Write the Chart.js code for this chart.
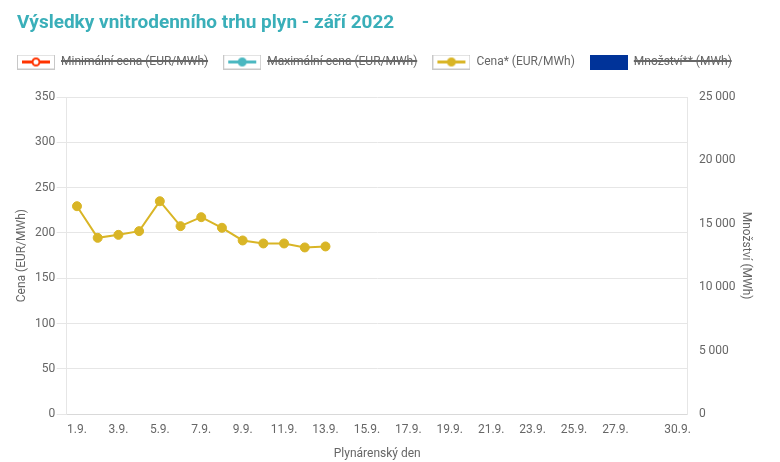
<!DOCTYPE html>
<html>
<head>
<meta charset="utf-8">
<script src="https://cdn.jsdelivr.net/npm/chart.js@4"></script>
<style>
  html, body { margin: 0; padding: 0; background: #fff; }
  #wrap { position: relative; width: 780px; height: 462px; }
  #title {
    position: absolute; left: 17px; top: 9px;
    font: bold 19px Roboto, sans-serif; color: #3aafb9;
    line-height: 26px; white-space: nowrap;
  }
</style>
</head>
<body>
<div id="wrap">
  <div id="title">Výsledky vnitrodenního trhu plyn - září 2022</div>
  <canvas id="myChart"></canvas>
</div>
<script>
const days = ['1.9.', '2.9.', '3.9.', '4.9.', '5.9.', '6.9.', '7.9.', '8.9.', '9.9.', '10.9.',
  '11.9.', '12.9.', '13.9.', '14.9.', '15.9.', '16.9.', '17.9.', '18.9.', '19.9.', '20.9.',
  '21.9.', '22.9.', '23.9.', '24.9.', '25.9.', '26.9.', '27.9.', '28.9.', '29.9.', '30.9.'];

// only the price series is shown, the rest is hidden in the legend
const minPrice = [];
const maxPrice = [];
const price = [229.5, 194.6, 197.9, 202, 235, 207.5, 217.4, 205.7, 191.7, 188.4, 188.4, 184, 185.1];
const volume = [];

const priceTicks = [0, 350, 50];
const volumeTicks = [0, 25000, 5000];

const ctx = document.getElementById('myChart');

// legend swatch: framed box with a line and a dot, or a filled box
function swatch(color, dotFill, filled) {
    const c = document.createElement('canvas');
    c.width = 38;
    c.height = 15;
    const g = c.getContext('2d');
    if (filled) {
        g.fillStyle = color;
        g.fillRect(0, 0, 38, 15);
        return c;
    }
    g.fillStyle = '#fff';
    g.fillRect(0, 0, 38, 15);
    g.strokeStyle = '#c8c8c8';
    g.lineWidth = 1;
    g.strokeRect(0.5, 0.5, 37, 14);
    g.strokeStyle = color;
    g.lineWidth = 3;
    g.beginPath();
    g.moveTo(5, 7.5);
    g.lineTo(33, 7.5);
    g.stroke();
    g.beginPath();
    g.arc(19, 7.5, 3.5, 0, Math.PI * 2);
    g.fillStyle = dotFill;
    g.fill();
    g.lineWidth = 2;
    g.stroke();
    return c;
}

const swatches = [
    swatch('#ff3300', '#fff', false),
    swatch('#4bb8c1', '#4bb8c1', false),
    swatch('#d9b526', '#d9b526', false),
    swatch('#003399', '#003399', true)
];

// a bit more room below the legend
const legendSpace = {
    id: 'legendSpace',
    beforeInit(chart) {
        const fit = chart.legend.fit;
        chart.legend.fit = function () {
            fit.bind(chart.legend)();
            this.height += 19;
        };
    }
};

const data = {
    labels: days,
    datasets: [{
        type: 'line',
        label: 'Minimální cena (EUR/MWh)',
        data: minPrice,
        borderColor: '#ff3300',
        backgroundColor: '#fff',
        yAxisID: 'y',
        hidden: true
    }, {
        type: 'line',
        label: 'Maximální cena (EUR/MWh)',
        data: maxPrice,
        borderColor: '#4bb8c1',
        backgroundColor: '#4bb8c1',
        yAxisID: 'y',
        hidden: true
    }, {
        type: 'line',
        label: 'Cena* (EUR/MWh)',
        data: price,
        borderColor: '#d9b526',
        backgroundColor: '#d9b526',
        borderWidth: 2,
        pointRadius: 4.5,
        pointHoverRadius: 5,
        pointBorderWidth: 1,
        tension: 0,
        yAxisID: 'y'
    }, {
        type: 'bar',
        label: 'Množství** (MWh)',
        data: volume,
        backgroundColor: '#003399',
        yAxisID: 'y1',
        hidden: true
    }]
};

const config = {
    type: 'bar',
    data: data,
    options: {
        responsive: true,
        maintainAspectRatio: false,
        animation: false,
        layout: {
            padding: { left: 2, right: 2, top: 41, bottom: 0 }
        },
        scales: {
            x: {
                offset: true,
                grid: { display: false, drawTicks: false },
                border: { color: '#d9d9d9' },
                ticks: {
                    autoSkip: false,
                    maxRotation: 0,
                    padding: 9,
                    color: '#666',
                    font: { family: 'Roboto', size: 12 },
                    callback: function (val, i) {
                        if ((i % 2 === 0 && i < 28) || i === 29) return days[i];
                        return '';
                    }
                },
                title: {
                    display: true,
                    text: 'Plynárenský den',
                    color: '#666',
                    padding: { top: 0, bottom: 1 },
                    font: { family: 'Roboto', size: 12 }
                }
            },
            y: {
                position: 'left',
                min: priceTicks[0],
                max: priceTicks[1],
                grid: { color: '#e6e6e6', tickLength: 10 },
                border: { color: '#e6e6e6' },
                ticks: {
                    stepSize: priceTicks[2],
                    color: '#666',
                    padding: 1.5,
                    font: { family: 'Roboto', size: 12 }
                },
                title: {
                    display: true,
                    text: 'Cena (EUR/MWh)',
                    color: '#666',
                    padding: { top: 13, bottom: 4 },
                    font: { family: 'Roboto', size: 12 }
                }
            },
            y1: {
                position: 'right',
                min: volumeTicks[0],
                max: volumeTicks[1],
                grid: { display: false, drawTicks: false },
                border: { color: '#e6e6e6' },
                ticks: {
                    stepSize: volumeTicks[2],
                    color: '#666',
                    padding: 11,
                    font: { family: 'Roboto', size: 12 },
                    callback: function (v) {
                        return String(v).replace(/\B(?=(\d{3})+(?!\d))/g, ' ');
                    }
                },
                title: {
                    display: true,
                    text: 'Množství (MWh)',
                    color: '#666',
                    padding: { top: 25, bottom: -8 },
                    font: { family: 'Roboto', size: 12 }
                }
            }
        },
        plugins: {
            title: { display: false },
            legend: {
                align: 'start',
                labels: {
                    usePointStyle: true,
                    pointStyleWidth: 38,
                    color: '#666',
                    padding: 15,
                    font: { family: 'Roboto', size: 12 },
                    generateLabels: function (chart) {
                        const items = Chart.defaults.plugins.legend.labels.generateLabels(chart);
                        items.forEach(function (it) {
                            it.pointStyle = swatches[it.datasetIndex];
                        });
                        return items;
                    }
                }
            }
        }
    },
    plugins: [legendSpace]
};

const myChart = new Chart(ctx, config);
</script>
</body>
</html>
